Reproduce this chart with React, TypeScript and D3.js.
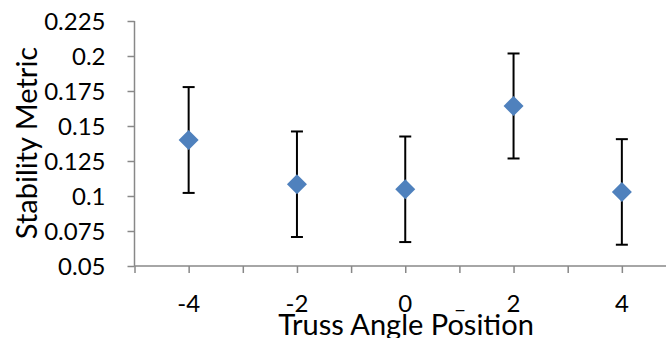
import { useRef, useEffect } from 'react';
import * as d3 from 'd3';

// angle positions, mean metric, error half-width
const positions = [-4, -2, 0, 2, 4];
const means = [0.14, 0.1084, 0.1048, 0.1643, 0.1029];
const errors = [0.0378, 0.0377, 0.0377, 0.0375, 0.0377];

const yTicks = [0.05, 0.075, 0.1, 0.125, 0.15, 0.175, 0.2, 0.225];
const xTicks = [-5, -4, -3, -2, -1, 0, 1, 2, 3, 4, 5];
const xLabels = [-4, -2, 0, 2, 4];

export default function App() {
  const svgRef = useRef<SVGSVGElement>(null);

  useEffect(() => {
    const width = 666;
    const height = 338;
    const font = 'Lato, "Open Sans", sans-serif';
    const axisColor = '#888888';

    const svg = d3.select(svgRef.current);
    svg.selectAll('*').remove();

    const x = d3.scaleLinear().domain([-5, 5]).range([134.5, 676]);
    const y = d3.scaleLinear().domain([0.05, 0.225]).range([266, 21]);

    // Y axis
    const yAxis = svg.append('g').attr('transform', `translate(${x(-5)},0)`)
      .call(d3.axisLeft(y).tickValues(yTicks).tickSize(7)
        .tickFormat(d => String(+d)));
    yAxis.select('.domain').attr('stroke', axisColor).attr('stroke-width', 1.5)
      .attr('d', `M0,${y(0.225)}V${y(0.05)}`);
    yAxis.selectAll('.tick line').attr('stroke', axisColor).attr('stroke-width', 1.5);
    yAxis.selectAll('.tick text').attr('font-family', font).attr('font-size', 24)
      .attr('fill', '#000').attr('dy', '0.36em').attr('x', -29);

    // X axis
    const xAxis = svg.append('g').attr('transform', `translate(0,${y(0.05)})`)
      .call(d3.axisBottom(x).tickValues(xTicks).tickSize(7).tickFormat(() => ''));
    xAxis.select('.domain').attr('stroke', axisColor).attr('stroke-width', 1.5)
      .attr('d', `M${x(-5)},0H${width}`);
    xAxis.selectAll('.tick line').attr('stroke', axisColor).attr('stroke-width', 1.5);

    svg.append('g').selectAll('text').data(xLabels).join('text')
      .attr('x', d => x(d)).attr('y', 312)
      .attr('text-anchor', 'middle')
      .attr('font-family', font).attr('font-size', 24)
      .text(d => String(d));

    svg.append('text').attr('x', 460).attr('y', 308)
      .attr('text-anchor', 'middle').attr('font-family', font).attr('font-size', 22)
      .text('_');

    // axis titles
    svg.append('text')
      .attr('x', 406).attr('y', 335)
      .attr('text-anchor', 'middle')
      .attr('font-family', font).attr('font-size', 29)
      .text('Truss Angle Position');

    svg.append('text')
      .attr('transform', `translate(37,${143}) rotate(-90)`)
      .attr('text-anchor', 'middle')
      .attr('font-family', font).attr('font-size', 29)
      .text('Stability Metric');

    // error bars
    const bars = svg.append('g').attr('stroke', '#000').attr('stroke-width', 2);
    positions.forEach((p, i) => {
      const cx = x(p);
      const top = y(means[i] + errors[i]);
      const bot = y(means[i] - errors[i]);
      bars.append('line').attr('x1', cx).attr('x2', cx).attr('y1', top).attr('y2', bot);
      bars.append('line').attr('x1', cx - 6).attr('x2', cx + 6).attr('y1', top).attr('y2', top);
      bars.append('line').attr('x1', cx - 6).attr('x2', cx + 6).attr('y1', bot).attr('y2', bot);
    });

    // diamond markers
    const diamond = d3.symbol().type(d3.symbolSquare).size(200);
    svg.append('g').selectAll('path').data(positions).join('path')
      .attr('d', diamond)
      .attr('transform', (d, i) => `translate(${x(d)},${y(means[i])}) rotate(45)`)
      .attr('fill', '#4F81BD');

    svg.attr('width', width).attr('height', height);
  }, []);

  return (
    <svg
      ref={svgRef}
      width={666}
      height={338}
      style={{ position: 'absolute', left: 0, top: 0, background: '#fff' }}
    />
  );
}
